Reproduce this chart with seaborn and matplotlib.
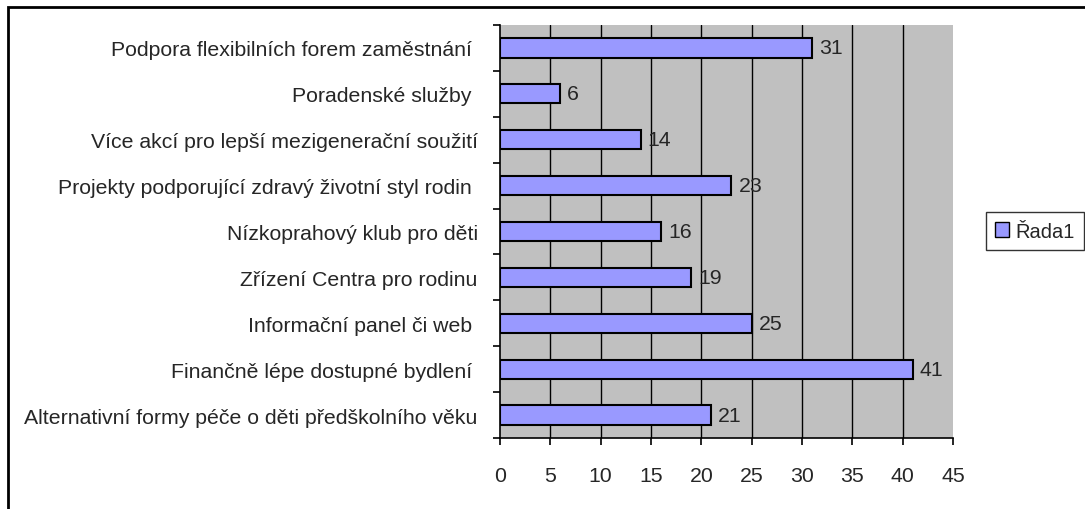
import matplotlib
matplotlib.use('Agg')
import matplotlib.pyplot as plt
import seaborn as sns
import pandas as pd
import numpy as np
from matplotlib.patches import Patch, Rectangle

# Data (top to bottom as shown)
categories = [
    'Podpora flexibilních forem zaměstnání ',
    'Poradenské služby ',
    'Více akcí pro lepší mezigenerační soužití',
    'Projekty podporující zdravý životní styl rodin ',
    'Nízkoprahový klub pro děti',
    'Zřízení Centra pro rodinu',
    'Informační panel či web ',
    'Finančně lépe dostupné bydlení ',
    'Alternativní formy péče o děti předškolního věku',
]
values = [31, 6, 14, 23, 16, 19, 25, 41, 21]
series_name = 'Řada1'
x_ticks = [0, 5, 10, 15, 20, 25, 30, 35, 40, 45]

df = pd.DataFrame({'category': categories, 'value': values})

sns.set_style('white')
plt.rcParams['font.family'] = ['Liberation Sans', 'DejaVu Sans']
FS = 15.3

fig = plt.figure(figsize=(10.85, 5.1), dpi=100)
ax = fig.add_axes([0.4608, 0.1392, 0.4175, 0.8098])

bar_color = '#9999FF'
sns.barplot(data=df, y='category', x='value', orient='h', color=bar_color,
            edgecolor='black', linewidth=1.5, width=0.42, saturation=1, ax=ax)

ax.set_facecolor('#C0C0C0')
ax.set_xlim(0, 45)
ax.set_ylim(len(categories) - 0.5, -0.5)
ax.set_xticks(x_ticks)
ax.set_xlabel('')
ax.set_ylabel('')

# vertical grid lines
for t in x_ticks[1:-1]:
    ax.axvline(t, color='black', linewidth=1, zorder=0.5)

# value labels
for cont in ax.containers:
    ax.bar_label(cont, labels=[str(v) for v in values], padding=5, fontsize=FS)

# spines
for s in ['top', 'right']:
    ax.spines[s].set_visible(False)
for s in ['left', 'bottom']:
    ax.spines[s].set_color('black')
    ax.spines[s].set_linewidth(1.2)

# y ticks: labels at centers, marks at boundaries
ax.tick_params(axis='y', which='major', length=0, pad=16, labelsize=FS)
ax.set_yticks(np.arange(len(categories) + 1) - 0.5, minor=True)
ax.tick_params(axis='y', which='minor', length=5, width=1.2, direction='out', color='black', left=True)
ax.tick_params(axis='x', which='major', length=5, width=1.2, direction='out', color='black',
               bottom=True, pad=15, labelsize=FS)

# legend
handle = Patch(facecolor=bar_color, edgecolor='black', linewidth=1)
fig.legend([handle], [series_name], loc='center left', bbox_to_anchor=(0.909, 0.545),
           frameon=True, fancybox=False, edgecolor='black', fontsize=14.5,
           handlelength=0.7, handleheight=0.7, handletextpad=0.3, borderpad=0.45,
           borderaxespad=0)

# outer chart frame (open to the right/bottom as in the reference)
fig.patches.append(Rectangle((7.5 / 1085, -0.1), 1.2, 1 - 7.5 / 510 + 0.1,
                             transform=fig.transFigure, fill=False,
                             edgecolor='black', linewidth=2))

fig.savefig('out.png', dpi=100)
